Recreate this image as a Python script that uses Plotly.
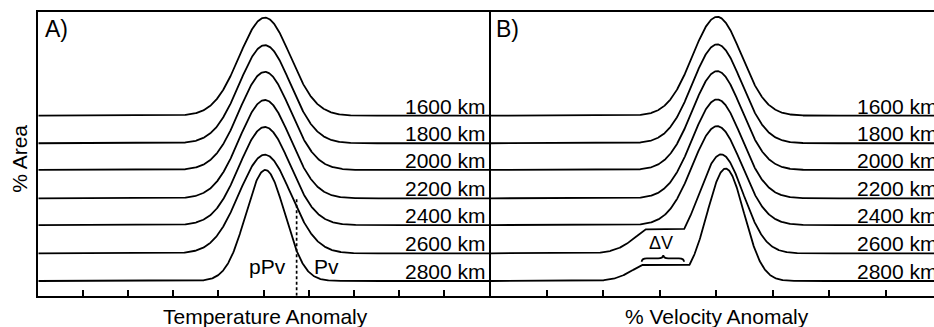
import numpy as np
import plotly.graph_objects as go

# ---------------- data ----------------
depths = ["1600 km", "1800 km", "2000 km", "2200 km", "2400 km", "2600 km", "2800 km"]
baselines = [6.57, 5.57, 4.60, 3.57, 2.60, 1.575, 0.57]   # % Area offset of each depth

# Panel A : temperature anomaly distributions
temp_peak_height = [3.56, 3.56, 3.56, 3.57, 3.56, 3.58, 4.03]
temp_peak_center = [5.03, 5.03, 5.03, 5.03, 5.03, 5.03, 5.04]
temp_peak_width = [0.564, 0.564, 0.564, 0.564, 0.564, 0.57, 0.43]
temp_ticks = [1, 2, 3, 4, 5, 6, 7, 8, 9]
ppv_boundary = 5.733
ppv_boundary_top = 3.63

# Panel B : velocity anomaly distributions (with ΔV shoulder for the deepest two)
vel_peak_height = [3.59, 3.59, 3.59, 3.59, 3.59, 3.59, 4.08]
vel_peak_center = [4.02, 4.02, 4.02, 4.02, 4.02, 4.09, 4.17]
vel_peak_width = [0.435, 0.435, 0.435, 0.435, 0.435, 0.39, 0.325]
vel_shoulder_level = [0, 0, 0, 0, 0, 0.87, 0.58]
vel_shoulder_height = [0, 0, 0, 0, 0, 1.09, 0.73]
vel_shoulder_center = [0, 0, 0, 0, 0, 3.01, 2.92]
vel_shoulder_width = [1, 1, 1, 1, 1, 0.39, 0.354]
vel_ticks = [1, 2, 3, 4, 5, 6, 7]
brace_x = [2.685, 3.067, 3.434]      # left end, tip, right end
brace_y = [1.27, 1.394, 1.514]       # end, bar, tip

# ---------------- geometry (pixels) ----------------
W, H = 934, 327
LW = 2
AX_BOTTOM = 296.7
PX_PER_Y = 27.55
A_X0, A_PX = 37.5, 45.2
B_X0, B_PX = 490.0, 56.5
plot_top, plot_bot = 11.5, 295.7
a_left, a_right = 38.3, 489.0
b_left, b_right = 491.0, 934.0

ydom = [1 - plot_bot / H, 1 - plot_top / H]
yrng = [(AX_BOTTOM - plot_bot) / PX_PER_Y, (AX_BOTTOM - plot_top) / PX_PER_Y]
a_rng = [(a_left - A_X0) / A_PX, (a_right - A_X0) / A_PX]
b_rng = [(b_left - B_X0) / B_PX, (b_right - B_X0) / B_PX]

FONT = "Liberation Sans, Arial, Helvetica, sans-serif"
LINE_W = 1.8


def curve(x, base, h, c, s, lvl=0.0, sh=0.0, sc=0.0, ss=1.0):
    y = h * np.exp(-0.5 * ((x - c) / s) ** 2)
    if lvl > 0:
        sho = np.where(x >= sc, lvl, np.minimum(lvl, sh * np.exp(-0.5 * ((x - sc) / ss) ** 2)))
        sho = np.where(x < c, sho, 0.0)
        y = np.maximum(y, sho)
    return base + y


fig = go.Figure()

xa = np.linspace(a_rng[0], a_rng[1], 900)
for i in range(len(depths)):
    fig.add_trace(go.Scatter(
        x=xa, y=curve(xa, baselines[i], temp_peak_height[i], temp_peak_center[i], temp_peak_width[i]),
        mode="lines", line=dict(color="black", width=LINE_W), xaxis="x", yaxis="y",
        hoverinfo="skip"))

fig.add_trace(go.Scatter(
    x=[ppv_boundary, ppv_boundary], y=[yrng[0], ppv_boundary_top], mode="lines",
    line=dict(color="black", width=1.7, dash="3px,2.5px"), xaxis="x", yaxis="y",
    hoverinfo="skip"))

xb = np.linspace(b_rng[0], b_rng[1], 1200)
for i in range(len(depths)):
    fig.add_trace(go.Scatter(
        x=xb, y=curve(xb, baselines[i], vel_peak_height[i], vel_peak_center[i], vel_peak_width[i],
                      vel_shoulder_level[i], vel_shoulder_height[i], vel_shoulder_center[i],
                      vel_shoulder_width[i]),
        mode="lines", line=dict(color="black", width=LINE_W), xaxis="x2", yaxis="y2",
        hoverinfo="skip"))

# ΔV brace
bx0, bxm, bx1 = brace_x
by_end, by_bar, by_tip = brace_y
r = 0.09
brace_path = (f"M {bx0},{by_end} Q {bx0},{by_bar} {bx0 + r},{by_bar} "
              f"L {bxm - r},{by_bar} Q {bxm},{by_bar} {bxm},{by_tip} "
              f"Q {bxm},{by_bar} {bxm + r},{by_bar} "
              f"L {bx1 - r},{by_bar} Q {bx1},{by_bar} {bx1},{by_end}")
fig.add_shape(type="path", path=brace_path, xref="x2", yref="y2",
              line=dict(color="black", width=1.8))

common_x = dict(showgrid=False, zeroline=False, showticklabels=False, ticks="inside",
                ticklen=6, tickwidth=1.6, tickcolor="black", showline=True,
                linecolor="black", linewidth=LW, mirror=True)
common_y = dict(showgrid=False, zeroline=False, showticklabels=False, ticks="",
                showline=True, linecolor="black", linewidth=LW, range=yrng, domain=ydom)

fig.update_layout(
    width=W, height=H, margin=dict(l=0, r=0, t=0, b=0),
    paper_bgcolor="white", plot_bgcolor="white", showlegend=False, hovermode=False,
    font=dict(family=FONT, color="black", size=21),
    xaxis=dict(common_x, domain=[a_left / W, a_right / W], range=a_rng,
               tickmode="array", tickvals=temp_ticks),
    yaxis=dict(common_y, mirror=True, anchor="x"),
    xaxis2=dict(common_x, domain=[b_left / W, b_right / W], range=b_rng,
                tickmode="array", tickvals=vel_ticks, anchor="y2"),
    yaxis2=dict(common_y, mirror=False, anchor="x2"),
)

ann = []
for i, d in enumerate(depths):
    ann.append(dict(text=d, xref="x domain", yref="y", x=1, y=baselines[i], xanchor="right",
                    yanchor="bottom", xshift=-1, yshift=-4, showarrow=False,
                    font=dict(size=21)))
    ann.append(dict(text=d, xref="x2 domain", yref="y2", x=1, y=baselines[i], xanchor="right",
                    yanchor="bottom", xshift=6, yshift=-4, showarrow=False,
                    font=dict(size=21)))

ann += [
    dict(text="A)", xref="x domain", yref="y domain", x=0, y=1, xanchor="left", yanchor="top",
         xshift=4.5, yshift=-2.5, showarrow=False, font=dict(size=23)),
    dict(text="B)", xref="x2 domain", yref="y2 domain", x=0, y=1, xanchor="left", yanchor="top",
         xshift=2.5, yshift=-2.5, showarrow=False, font=dict(size=23)),
    dict(text="pPv", xref="x", yref="y", x=5.08, y=1.114, xanchor="center", yanchor="middle",
         showarrow=False, font=dict(size=21)),
    dict(text="Pv", xref="x", yref="y", x=6.395, y=1.114, xanchor="center", yanchor="middle",
         showarrow=False, font=dict(size=21)),
    dict(text="ΔV", xref="x2", yref="y2", x=3.02, y=1.935, xanchor="center", yanchor="middle",
         showarrow=False, font=dict(size=18)),
    dict(text="Temperature Anomaly", xref="paper", yref="paper", x=265 / W, y=1 - 303 / H,
         xanchor="center", yanchor="top", showarrow=False, font=dict(size=21)),
    dict(text="% Velocity Anomaly", xref="paper", yref="paper", x=716.7 / W, y=1 - 303 / H,
         xanchor="center", yanchor="top", showarrow=False, font=dict(size=21)),
    dict(text="% Area", xref="paper", yref="paper", x=18.7 / W, y=1 - 159 / H,
         xanchor="center", yanchor="middle", textangle=-90, showarrow=False,
         font=dict(size=21)),
]
fig.update_layout(annotations=ann)

fig.write_html("out.html", config={"displayModeBar": False})
